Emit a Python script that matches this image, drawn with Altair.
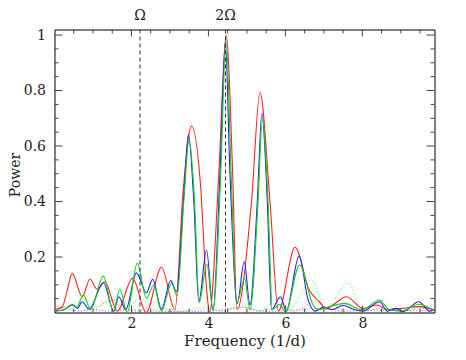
import altair as alt
import pandas as pd

# ---- data (frequency in 1/d, normalised power) ----
red_f = [0.0, 0.2, 0.33, 0.46, 0.72, 0.92, 1.11, 1.31, 1.63, 2.03, 2.38, 2.78, 3.13,
         3.35, 3.56, 3.80, 3.95, 4.03, 4.27, 4.46, 4.63, 4.74, 5.12, 5.34, 5.60, 5.82,
         6.25, 6.62, 6.88, 7.06, 7.59, 8.02, 8.37, 8.66, 9.02, 9.49, 9.875]
red_p = [0.01, 0.02, 0.08, 0.141, 0.057, 0.12, 0.084, 0.111, 0.005, 0.123, 0.0, 0.163, 0.01,
         0.45, 0.672, 0.45, 0.09, 0.0, 0.5, 1.0, 0.5, 0.01, 0.4, 0.793, 0.4, 0.005,
         0.235, 0.081, 0.039, 0.015, 0.057, 0.015, 0.027, 0.01, 0.015, 0.021, 0.008]

blue_f = [0.0, 0.25, 0.46, 0.6, 0.72, 0.90, 1.27, 1.54, 1.67, 1.85, 2.13, 2.39, 2.55,
          2.78, 3.02, 3.17, 3.35, 3.48, 3.62, 3.75, 3.95, 4.12, 4.30, 4.44, 4.56, 4.75,
          4.93, 5.08, 5.27, 5.39, 5.53, 5.64, 5.87, 6.02, 6.36, 6.58, 6.77, 7.0, 7.2,
          7.5, 7.8, 8.02, 8.45, 8.65, 8.88, 9.05, 9.47, 9.75, 9.875]
blue_p = [0.005, 0.01, 0.027, 0.015, 0.039, 0.012, 0.107, 0.005, 0.057, 0.01, 0.143, 0.071, 0.12,
          0.012, 0.115, 0.075, 0.4, 0.642, 0.4, 0.039, 0.225, 0.01, 0.5, 0.975, 0.5, 0.033,
          0.183, 0.027, 0.4, 0.718, 0.4, 0.01, 0.057, 0.007, 0.204, 0.051, 0.005, 0.02, 0.01,
          0.025, 0.01, 0.005, 0.039, 0.005, 0.015, 0.003, 0.039, 0.005, 0.01]

green_f = [0.0, 0.25, 0.46, 0.58, 0.75, 0.94, 1.27, 1.53, 1.70, 1.89, 2.15, 2.39, 2.58,
           2.78, 3.04, 3.19, 3.36, 3.50, 3.64, 3.76, 3.96, 4.12, 4.32, 4.46, 4.59, 4.73,
           4.94, 5.08, 5.29, 5.40, 5.55, 5.66, 5.85, 6.00, 6.37, 6.72, 6.85, 7.0, 7.55,
           7.85, 8.0, 8.44, 8.7, 9.0, 9.47, 9.875]
green_p = [0.005, 0.01, 0.03, 0.02, 0.063, 0.012, 0.131, 0.005, 0.084, 0.0, 0.177, 0.051, 0.099,
           0.005, 0.105, 0.06, 0.4, 0.625, 0.4, 0.035, 0.174, 0.005, 0.5, 0.99, 0.5, 0.03,
           0.123, 0.01, 0.4, 0.697, 0.4, 0.01, 0.03, 0.0, 0.171, 0.027, 0.01, 0.015, 0.033,
           0.015, 0.01, 0.045, 0.01, 0.005, 0.03, 0.005]

red_dot_f = [0.0, 0.3, 0.75, 1.05, 1.5, 1.9, 2.2, 2.65, 3.0, 3.5, 4.0, 4.4, 4.9, 5.3, 5.9,
             6.2, 6.8, 7.1, 7.6, 8.0, 8.5, 9.0, 9.5, 9.875]
red_dot_p = [0.02, 0.02, 0.05, 0.02, 0.045, 0.01, 0.005, 0.04, 0.005, 0.005, 0.015, 0.005, 0.02,
             0.005, 0.02, 0.005, 0.04, 0.01, 0.03, 0.005, 0.015, 0.005, 0.015, 0.005]

green_dot_f = [0.0, 0.35, 0.7, 1.0, 1.45, 1.8, 2.25, 2.6, 3.0, 3.3, 3.9, 4.3, 4.85, 5.3, 5.85,
               6.1, 6.68, 7.05, 7.63, 8.0, 8.54, 8.9, 9.3, 9.6, 9.875]
green_dot_p = [0.01, 0.02, 0.035, 0.01, 0.045, 0.01, 0.05, 0.01, 0.01, 0.005, 0.02, 0.005, 0.025,
               0.005, 0.05, 0.01, 0.117, 0.01, 0.107, 0.01, 0.045, 0.005, 0.01, 0.02, 0.01]

blue_dot_f = [0.0, 0.3, 0.6, 1.0, 1.5, 2.0, 2.5, 3.5, 4.4, 4.9, 5.5, 6.4, 6.9, 7.5, 8.5, 9.875]
blue_dot_p = [0.02, 0.015, 0.005, 0.01, 0.005, 0.01, 0.005, 0.003, 0.01, 0.018, 0.004, 0.01,
              0.015, 0.005, 0.008, 0.005]

omega_f = [2.222, 4.444]
omega_lbl = ["Ω", "2Ω"]

x_major = [2, 4, 6, 8]
x_minor = [0.5, 1, 1.5, 2.5, 3, 3.5, 4.5, 5, 5.5, 6.5, 7, 7.5, 8.5, 9, 9.5]
y_major = [0.2, 0.4, 0.6, 0.8, 1.0]
y_minor = [0.05, 0.1, 0.15, 0.25, 0.3, 0.35, 0.45, 0.5, 0.55, 0.65, 0.7, 0.75,
           0.85, 0.9, 0.95]

# ---- chart ----
W, H = 380, 283
FONT = "DejaVu Serif"
TXT = "#222222"
TICK = "#444444"

xs = alt.Scale(domain=[0, 9.875], nice=False, zero=False)
ys = alt.Scale(domain=[0, 1.02], nice=False, zero=False)

xaxis = alt.Axis(values=x_major, title="Frequency (1/d)", ticks=False, domain=False,
                 grid=False, format="~g", labelFont=FONT, labelFontSize=14,
                 labelColor=TXT, labelPadding=4, titleFont=FONT, titleFontSize=15,
                 titleFontWeight="normal", titleColor=TXT, titlePadding=3)
yaxis = alt.Axis(values=y_major, title="Power", ticks=False, domain=False, grid=False,
                 format="~g", labelFont=FONT, labelFontSize=14, labelColor=TXT,
                 labelPadding=9, titleFont=FONT, titleFontSize=14,
                 titleFontWeight="normal", titleColor=TXT, titleBaseline="middle",
                 titleX=-39, titleY=145)


def X(field="f"):
    return alt.X(f"{field}:Q", scale=xs, axis=xaxis)


def Y(field="p"):
    return alt.Y(f"{field}:Q", scale=ys, axis=yaxis)


def line(f, p, color, dash=None, width=1.1):
    df = pd.DataFrame({"f": f, "p": p})
    kw = dict(color=color, strokeWidth=width, interpolate="monotone", clip=True)
    if dash is not None:
        kw["strokeDash"] = dash
    return alt.Chart(df).mark_line(**kw).encode(x=X(), y=Y())


layers = []
# dotted curves
layers.append(line(blue_dot_f, blue_dot_p, "#7777ff", dash=[1, 2], width=1.0))
layers.append(line(red_dot_f, red_dot_p, "#ff7777", dash=[1, 2], width=1.0))
layers.append(line(green_dot_f, green_dot_p, "#44ee44", dash=[1, 2], width=1.0))
# solid periodograms
layers.append(line(red_f, red_p, "#ff2020"))
layers.append(line(blue_f, blue_p, "#2020ff"))
layers.append(line(green_f, green_p, "#10d010"))

# dashed lines at Omega, 2 Omega
om = pd.DataFrame({"f": omega_f, "lbl": omega_lbl})
layers.append(alt.Chart(om).mark_rule(color="#333333", strokeWidth=1, strokeDash=[4, 3])
              .encode(x=X()))
layers.append(alt.Chart(om).mark_text(font=FONT, fontSize=14, color=TXT, align="center",
                                      baseline="middle")
              .encode(x=X(), y=alt.value(-14), text="lbl:N"))


# inside ticks on all four sides
def xticks(vals, length):
    d = pd.DataFrame({"f": vals})
    b = alt.Chart(d).mark_rule(color=TICK, strokeWidth=1).encode(
        x=X(), y=alt.value(H), y2=alt.value(H - length))
    t = alt.Chart(d).mark_rule(color=TICK, strokeWidth=1).encode(
        x=X(), y=alt.value(0), y2=alt.value(length))
    return [b, t]


def yticks(vals, length):
    d = pd.DataFrame({"p": vals})
    l = alt.Chart(d).mark_rule(color=TICK, strokeWidth=1).encode(
        y=Y(), x=alt.value(0), x2=alt.value(length))
    r = alt.Chart(d).mark_rule(color=TICK, strokeWidth=1).encode(
        y=Y(), x=alt.value(W), x2=alt.value(W - length))
    return [l, r]


layers += xticks(x_major, 7) + xticks(x_minor, 4)
layers += yticks(y_major, 8) + yticks(y_minor, 4)

chart = (
    alt.layer(*layers)
    .properties(width=W, height=H,
                autosize=alt.AutoSizeParams(type="none"),
                padding={"left": 46.5, "top": 21.5, "right": 20, "bottom": 40})
    .configure_view(stroke="black", strokeWidth=1)
)

chart.save("out.html", embed_options={"renderer": "svg", "actions": False})
